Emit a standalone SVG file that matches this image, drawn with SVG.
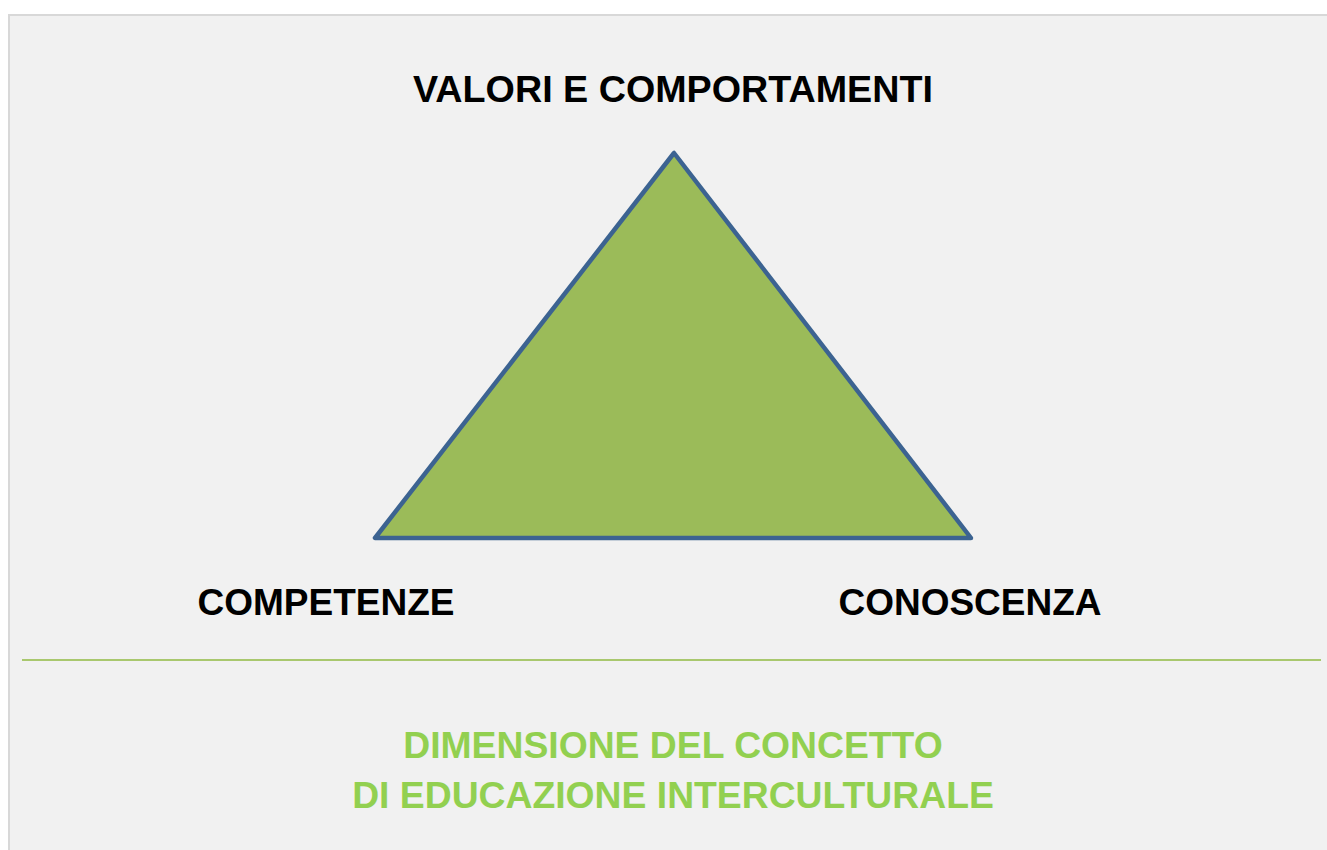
<svg xmlns="http://www.w3.org/2000/svg" width="1327" height="850" viewBox="0 0 1327 850">
<style>
.lbl{font-family:"Liberation Sans",Arial,sans-serif;font-weight:bold;font-size:37px;text-anchor:middle;fill:#000}
.cap{font-family:"Liberation Sans",Arial,sans-serif;font-weight:bold;font-size:37.3px;text-anchor:middle;fill:#92d050}
</style>
<rect x="0" y="0" width="1327" height="850" fill="#ffffff"/>
<rect x="9" y="15" width="1330" height="850" fill="#f1f1f1" stroke="#d8d8d8" stroke-width="2"/>
<g id="triangle">
<polygon points="674,153 375,538 971,538" fill="#9bbb59" stroke="#3c6391" stroke-width="4.5" stroke-linejoin="round"/>
</g>
<g id="connectors">
<line x1="22" y1="660" x2="1321" y2="660" stroke="#a9c86e" stroke-width="2"/>
</g>
<g id="top-label"><text class="lbl" x="673" y="102" style="font-size:37.7px">VALORI E COMPORTAMENTI</text></g>
<g id="left-label"><text class="lbl" x="326" y="615">COMPETENZE</text></g>
<g id="right-label"><text class="lbl" x="970" y="615">CONOSCENZA</text></g>
<g id="caption">
<text class="cap" x="673" y="758">DIMENSIONE DEL CONCETTO</text>
<text class="cap" x="673" y="808">DI EDUCAZIONE INTERCULTURALE</text>
</g>
</svg>
